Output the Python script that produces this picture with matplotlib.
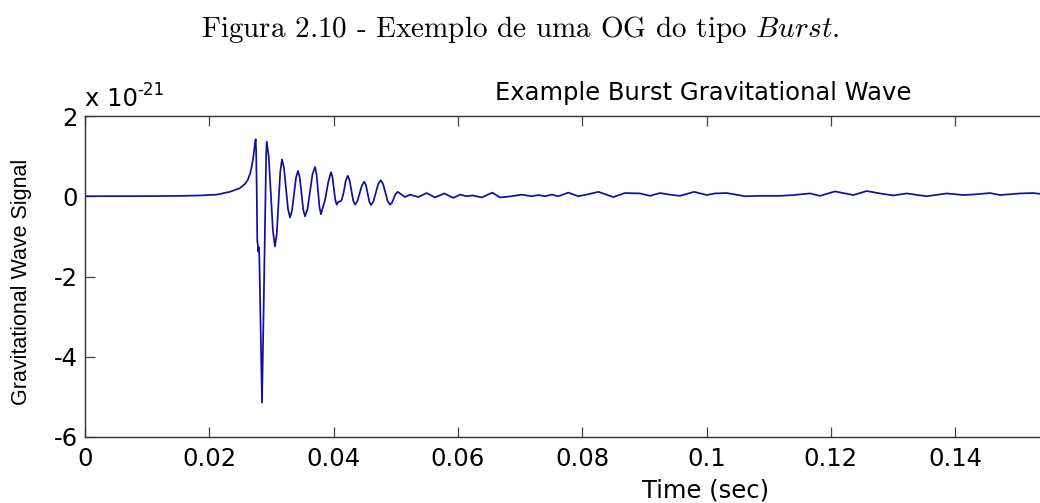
import matplotlib
matplotlib.use("Agg")
import matplotlib.pyplot as plt

# ---- data (time in seconds, strain in units of 1e-21) ----
time_s = [
    0.0, 0.0105, 0.0158, 0.0185, 0.0212, 0.0233, 0.0249, 0.0257, 0.0262, 0.0266,
    0.0269, 0.0271, 0.02728, 0.02740, 0.027466, 0.02754, 0.02762, 0.02772, 0.02782, 0.02789,
    0.02796, 0.02804, 0.02827, 0.02848, 0.02869, 0.02891, 0.02905, 0.02915, 0.029236, 0.029570,
    0.029904, 0.030237, 0.030571, 0.030853, 0.031134, 0.031416, 0.031697, 0.032019, 0.032341, 0.032663,
    0.032985, 0.033307, 0.033629, 0.033950, 0.034272, 0.034554, 0.034835, 0.035117, 0.035398, 0.035800,
    0.036203, 0.036605, 0.037007, 0.037249, 0.037490, 0.037732, 0.037973, 0.038295, 0.038616, 0.039147,
    0.039582, 0.039811, 0.040040, 0.040270, 0.040499, 0.040708, 0.040917, 0.041110, 0.041303, 0.041625,
    0.041947, 0.042269, 0.042563, 0.042856, 0.043150, 0.043443, 0.043817, 0.044192, 0.044566, 0.044940,
    0.045210, 0.045479, 0.045749, 0.046018, 0.046408, 0.046798, 0.047188, 0.047578, 0.047952, 0.048327,
    0.048701, 0.049075, 0.049385, 0.049694, 0.050004, 0.050314, 0.050901, 0.051488, 0.052293, 0.053628,
    0.054980, 0.056315, 0.057812, 0.059260, 0.060338, 0.061416, 0.062317, 0.063829, 0.065535, 0.066774,
    0.068657, 0.070266, 0.071875, 0.072936, 0.074014, 0.075093, 0.076155, 0.077764, 0.079372, 0.080982,
    0.082591, 0.085004, 0.086887, 0.089300, 0.090909, 0.092518, 0.094127, 0.095736, 0.097988, 0.100032,
    0.101368, 0.103250, 0.106195, 0.108608, 0.111826, 0.113966, 0.116653, 0.118262, 0.120676, 0.123621,
    0.125776, 0.127917, 0.130056, 0.132212, 0.135430, 0.138648, 0.141319, 0.143475, 0.145616, 0.147224,
    0.150443, 0.152534, 0.153661,
]
strain_e21 = [
    0.0, 0.003, 0.01, 0.02, 0.04, 0.11, 0.20, 0.30, 0.41, 0.58,
    0.80, 1.00, 1.22, 1.38, 1.42, 1.1, 0.3, -1.12, -1.22, -1.38,
    -1.27, -1.45, -3.40, -5.14, -3.30, -1.20, 0.30, 1.05, 1.36, 0.978,
    0.055, -0.868, -1.25, -0.932, -0.165, 0.602, 0.92, 0.708, 0.195, -0.318,
    -0.53, -0.360, 0.05, 0.460, 0.63, 0.464, 0.065, -0.334, -0.50, -0.320,
    0.115, 0.550, 0.73, 0.557, 0.14, -0.277, -0.45, -0.26, -0.10, 0.36,
    0.60, 0.481, 0.195, -0.091, -0.21, -0.15, -0.13, -0.13, -0.09, 0.10,
    0.38, 0.51, 0.405, 0.15, -0.105, -0.21, -0.127, 0.075, 0.277, 0.36,
    0.275, 0.07, -0.135, -0.22, -0.129, 0.09, 0.309, 0.40, 0.311, 0.095,
    -0.121, -0.21, -0.163, -0.05, 0.063, 0.11, 0.045, -0.02, 0.04, -0.02,
    0.08, -0.03, 0.07, -0.04, 0.04, 0.0, 0.02, -0.03, 0.09, -0.03,
    0.0, 0.04, 0.0, 0.03, 0.0, 0.04, 0.0, 0.09, 0.0, 0.05,
    0.11, -0.02, 0.08, 0.07, 0.01, 0.08, 0.04, 0.01, 0.11, 0.03,
    0.07, 0.08, 0.0, 0.01, 0.01, 0.03, 0.07, 0.01, 0.12, 0.03,
    0.13, 0.07, 0.02, 0.07, 0.0, 0.07, 0.03, 0.05, 0.08, 0.03,
    0.07, 0.08, 0.06,
]
x_ticks = [0, 0.02, 0.04, 0.06, 0.08, 0.1, 0.12, 0.14]
x_tick_labels = ["0", "0.02", "0.04", "0.06", "0.08", "0.1", "0.12", "0.14"]
y_ticks = [-6, -4, -2, 0, 2]
y_tick_labels = ["-6", "-4", "-2", "0", "2"]

plt.rcParams['font.family'] = ['DejaVu Sans']
plt.rcParams['mathtext.fontset'] = 'cm'
plt.rcParams['axes.unicode_minus'] = False

fig = plt.figure(figsize=(10.40, 5.03), dpi=100)
ax = fig.add_axes([85 / 1040, 1 - 437 / 503, 955 / 1040, 321 / 503])

ax.plot(time_s, strain_e21, color='#1010a0', lw=1.25, solid_joinstyle='round')

ax.set_xlim(0, 0.15366)
ax.set_ylim(-6, 2)
ax.set_xticks(x_ticks)
ax.set_xticklabels(x_tick_labels)
ax.set_yticks(y_ticks)
ax.set_yticklabels(y_tick_labels)

for s in ['left', 'bottom', 'top']:
    ax.spines[s].set_color('#333333')
    ax.spines[s].set_linewidth(1.0)
ax.spines['right'].set_visible(False)

ax.tick_params(axis='both', direction='in', length=7, width=0.9, color='#444444',
               labelsize=17.5, labelcolor='black', top=True, right=False)
ax.tick_params(axis='x', pad=7)
ax.tick_params(axis='y', pad=5)

ax.set_xlabel('Time (sec)', fontsize=17.5)
ax.xaxis.set_label_coords(0.65, -0.128)
ax.set_ylabel('Gravitational Wave Signal', fontsize=15.5, family=['Liberation Sans', 'DejaVu Sans'])
ax.yaxis.set_label_coords(-0.056, 0.483)

ax.text(0.647, 1.05, 'Example Burst Gravitational Wave', transform=ax.transAxes,
        ha='center', va='baseline', fontsize=17.5)
ax.text(0.0, 1.031, 'x 10', transform=ax.transAxes,
        ha='left', va='baseline', fontsize=17.5)
ax.text(0.0545, 1.066, '-21', transform=ax.transAxes,
        ha='left', va='baseline', fontsize=12)

fig.text(0.5, 1 - 37 / 503, r'Figura 2.10 - Exemplo de uma OG do tipo $\mathit{Burst}$.',
         ha='center', va='baseline', fontsize=21, family='cmr10')

fig.savefig('out.png', dpi=100)
